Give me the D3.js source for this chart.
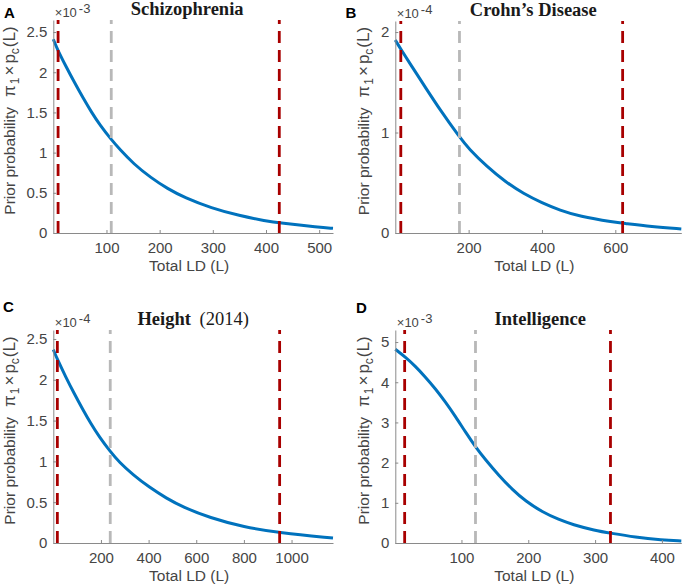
<!DOCTYPE html>
<html><head><meta charset="utf-8">
<script src="https://cdn.jsdelivr.net/npm/d3@7"></script>
<style>body{margin:0;background:#fff} svg{display:block}</style>
</head><body>
<svg id="chart" width="684" height="586"></svg>
<script>
// ---------- data ----------
const panelLetters = ["A", "B", "C", "D"];
const panelTitles = ["Schizophrenia", "Crohn\u2019s Disease", "Height", "Intelligence"];
const titleSuffixes = ["", "", "(2014)", ""];
const exponents = ["-3", "-4", "-4", "-3"];
const xDomains = [[0, 526], [0, 780], [0, 1174], [1, 429]];
const yMaxes = [2.65, 2.11, 2.61, 5.30];
const xTickValues = [[100, 200, 300, 400, 500], [200, 400, 600], [200, 400, 600, 800, 1000], [100, 200, 300, 400]];
const yTickValues = [[0, 0.5, 1, 1.5, 2, 2.5], [0, 1, 2], [0, 0.5, 1, 1.5, 2, 2.5], [0, 1, 2, 3, 4, 5]];
const redLineValues = [[9, 425], [15, 620], [17, 950], [15, 323]];
const grayLineValues = [109, 175, 239, 121];

const schizoL = [0, 8, 24, 40, 56, 72, 88, 108, 125, 151, 183, 215, 247, 297, 350, 400, 425, 500, 526];
const schizoP = [2.41, 2.28, 2.07, 1.87, 1.68, 1.50, 1.34, 1.17, 1.04, 0.86, 0.69, 0.55, 0.44, 0.31, 0.215, 0.15, 0.125, 0.072, 0.058];
const crohnL = [0, 15, 50, 82, 125, 175, 200, 250, 300, 350, 400, 450, 500, 600, 620, 700, 780];
const crohnP = [1.92, 1.83, 1.63, 1.45, 1.21, 0.955, 0.84, 0.66, 0.51, 0.39, 0.30, 0.225, 0.168, 0.105, 0.097, 0.063, 0.04];
const heightL = [0, 17, 53, 88, 123, 158, 193, 239, 277, 333, 404, 474, 544, 656, 800, 950, 1174];
const heightP = [2.37, 2.25, 2.03, 1.83, 1.64, 1.46, 1.30, 1.12, 0.99, 0.84, 0.68, 0.55, 0.44, 0.31, 0.195, 0.124, 0.06];
const intelL = [1, 15, 31, 46, 61, 76, 91, 106, 121, 136, 156, 176, 196, 221, 246, 266, 300, 323, 360, 400, 429];
const intelP = [4.82, 4.64, 4.40, 4.13, 3.84, 3.51, 3.15, 2.76, 2.39, 2.07, 1.68, 1.33, 1.04, 0.77, 0.58, 0.46, 0.31, 0.245, 0.145, 0.077, 0.05];
const seriesL = [schizoL, crohnL, heightL, intelL];
const seriesP = [schizoP, crohnP, heightP, intelP];

// ---------- layout ----------
const boxes = [
  {left: 53.3, right: 333, top: 20, bottom: 233, letterX: 4, letterY: 18, titleDx: -6},
  {left: 395.3, right: 681.3, top: 21, bottom: 233, letterX: 345.5, letterY: 18, titleDx: -5},
  {left: 53.3, right: 333, top: 330, bottom: 543, letterX: 3, letterY: 312, titleDx: 0},
  {left: 395.3, right: 681.3, top: 330, bottom: 543, letterX: 356, letterY: 313, titleDx: 2}
];
const SANS = "'Liberation Sans', Arial, Helvetica, sans-serif";
const SERIF = "'Liberation Serif', 'Times New Roman', serif";
const TEXT = "#454545", AXIS = "#8a8a8a";
const BLUE = "#0072BD", RED = "#a80000", GRAY = "#b8b8b8";

const svg = d3.select("#chart");

boxes.forEach((b, i) => {
  const x = d3.scaleLinear().domain(xDomains[i]).range([b.left, b.right]);
  const y = d3.scaleLinear().domain([0, yMaxes[i]]).range([b.bottom, b.top]);
  const g = svg.append("g");

  // curve
  const pts = seriesL[i].map((L, k) => [L, seriesP[i][k]]);
  g.append("path")
    .attr("d", d3.line().x(d => x(d[0])).y(d => y(d[1])).curve(d3.curveBasis)(pts))
    .attr("fill", "none").attr("stroke", BLUE).attr("stroke-width", 3);

  // vertical dashed lines
  const vline = (v, color) => g.append("path")
    .attr("d", `M${x(v)},${y(0)}V${y(yMaxes[i])}`)
    .attr("stroke", color).attr("stroke-width", 2.8).attr("stroke-dasharray", "12,7").attr("fill", "none");
  vline(grayLineValues[i], GRAY);
  redLineValues[i].forEach(v => vline(v, RED));

  // axes
  const fmt = d3.format("~g");
  const ya = g.append("g").attr("transform", `translate(${b.left},0)`)
    .call(d3.axisLeft(y).tickValues(yTickValues[i]).tickFormat(fmt).tickSizeInner(-3).tickSizeOuter(0).tickPadding(6));
  const xa = g.append("g").attr("transform", `translate(0,${b.bottom})`)
    .call(d3.axisBottom(x).tickValues(xTickValues[i]).tickFormat(fmt).tickSizeInner(-3).tickSizeOuter(0).tickPadding(9));
  [ya, xa].forEach(a => {
    a.select(".domain").attr("stroke", AXIS).attr("stroke-width", 1);
    a.selectAll(".tick line").attr("stroke", AXIS).attr("stroke-width", 1);
    a.selectAll(".tick text").attr("fill", TEXT).style("font-family", SANS).style("font-size", "15px");
  });

  // exponent label
  const ex = g.append("text").attr("x", b.left + 1.5).attr("y", b.top - 3.5)
    .attr("fill", TEXT).style("font-family", SANS).style("font-size", "13px");
  ex.append("tspan").text("\u00d710");
  ex.append("tspan").attr("dx", 2).attr("dy", -4).text(exponents[i]);

  // title
  const cx = (b.left + b.right) / 2;
  const t = g.append("text").attr("x", cx + b.titleDx).attr("y", b.top - 5.5)
    .attr("text-anchor", "middle").attr("fill", "#1a1a1a")
    .style("font-family", SERIF).style("font-size", "18.5px");
  t.append("tspan").attr("font-weight", "bold").text(panelTitles[i]);
  if (titleSuffixes[i]) t.append("tspan").attr("dx", 4).text(" " + titleSuffixes[i]);

  // panel letter
  g.append("text").attr("x", b.letterX).attr("y", b.letterY)
    .attr("fill", "#000").style("font-family", SANS).style("font-size", "15px").style("font-weight", "bold")
    .text(panelLetters[i]);

  // x label
  g.append("text").attr("x", cx - 4).attr("y", b.bottom + 38)
    .attr("text-anchor", "middle").attr("fill", TEXT)
    .style("font-family", SANS).style("font-size", "15.5px").text("Total LD (L)");

  // y label
  const bb = ya.node().getBBox();
  const lx = b.left + bb.x - 11.5;
  const ly = (b.top + b.bottom) / 2 - 6;
  const yl = g.append("text").attr("transform", `translate(${lx},${ly}) rotate(-90)`)
    .attr("text-anchor", "middle").attr("fill", TEXT)
    .style("font-family", SANS).style("font-size", "15.5px");
  yl.append("tspan").text("Prior probability");
  yl.append("tspan").attr("dx", 10).style("font-size", "17px").text("\u03c0");
  yl.append("tspan").attr("dy", 4).attr("dx", 1).style("font-size", "12px").text("1");
  yl.append("tspan").attr("dy", -4).attr("dx", 2).style("font-size", "17px").text("\u00d7");
  yl.append("tspan").attr("dx", 2).style("font-size", "17px").text("p");
  yl.append("tspan").attr("dy", 4).style("font-size", "12px").text("c");
  yl.append("tspan").attr("dy", -4).attr("dx", 1).style("font-size", "17px").text("(L)");
});
</script>
</body></html>
